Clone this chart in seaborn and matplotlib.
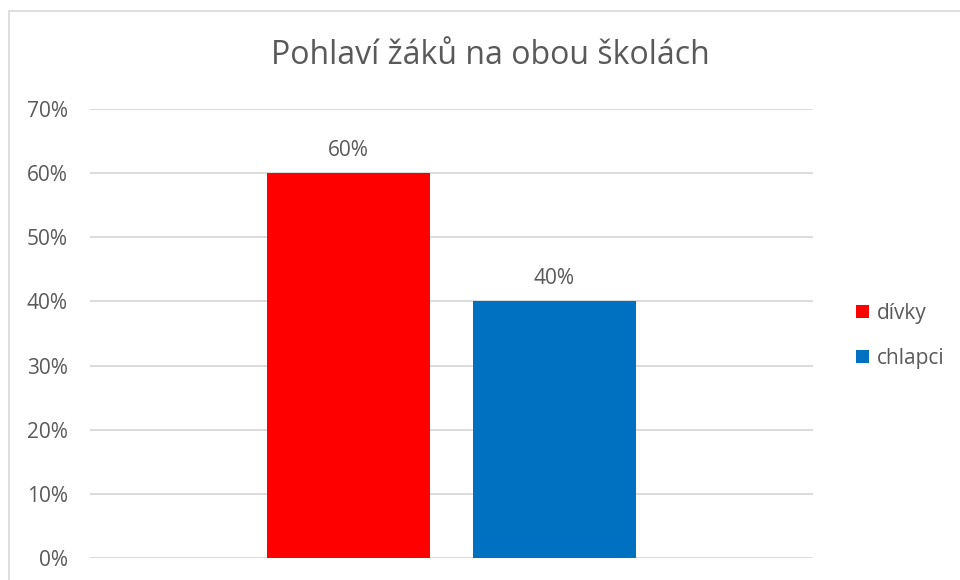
import matplotlib
matplotlib.use("Agg")
import matplotlib.pyplot as plt
import seaborn as sns
from matplotlib.patches import Patch
from matplotlib.lines import Line2D

# data
categories = ["dívky", "chlapci"]
values = [0.60, 0.40]
colors = ["#FF0000", "#0070C0"]
value_labels = ["60%", "40%"]
yticks = [0, 0.1, 0.2, 0.3, 0.4, 0.5, 0.6, 0.7]
ytick_labels = ["0%", "10%", "20%", "30%", "40%", "50%", "60%", "70%"]
title = "Pohlaví žáků na obou školách"

sns.set_style("white")
plt.rcParams["font.family"] = ["Open Sans", "DejaVu Sans"]
text_color = "#595959"

fig = plt.figure(figsize=(9.6, 5.8), dpi=100)
ax = fig.add_axes([90 / 960, 1 - 558 / 580, (813 - 90) / 960, (558 - 109) / 580])

sns.barplot(x=categories, y=values, hue=categories, palette=colors,
            width=0.79, saturation=1, legend=False, linewidth=0, ax=ax)

ax.set_xlim(-1.255, 2.255)
ax.set_ylim(0, 0.7)
ax.set_yticks(yticks)
ax.set_yticklabels(ytick_labels, color=text_color, fontsize=15)
ax.set_xticks([])
ax.set_xlabel("")
ax.set_ylabel("")
ax.tick_params(axis="y", length=0, pad=16)
ax.yaxis.grid(True, color="#D9D9D9", linewidth=1.3)
ax.set_axisbelow(True)
for s in ax.spines.values():
    s.set_visible(False)

for i, (v, lab) in enumerate(zip(values, value_labels)):
    ax.annotate(lab, (i, v), xytext=(0, 9), textcoords="offset points",
                ha="center", va="bottom", fontsize=15, color=text_color)

fig.text(490 / 960, 1 - 56 / 580, title, ha="center", va="center",
         fontsize=23, color=text_color)

handles = [Patch(facecolor=c, edgecolor="none") for c in colors]
fig.legend(handles, categories, loc="center left",
           bbox_to_anchor=(856 / 960, 1 - 336 / 580), frameon=False,
           fontsize=15, labelcolor=text_color, handlelength=0.6,
           handleheight=0.6, handletextpad=0.4, labelspacing=1.15,
           borderpad=0, borderaxespad=0)

# chart border (left and top edges visible)
fig.add_artist(Line2D([9 / 960, 9 / 960], [0, 1 - 11 / 580],
                      transform=fig.transFigure, color="#D9D9D9", linewidth=1.2))
fig.add_artist(Line2D([9 / 960, 1], [1 - 11 / 580, 1 - 11 / 580],
                      transform=fig.transFigure, color="#D9D9D9", linewidth=1.2))

fig.savefig("out.png", dpi=100)
